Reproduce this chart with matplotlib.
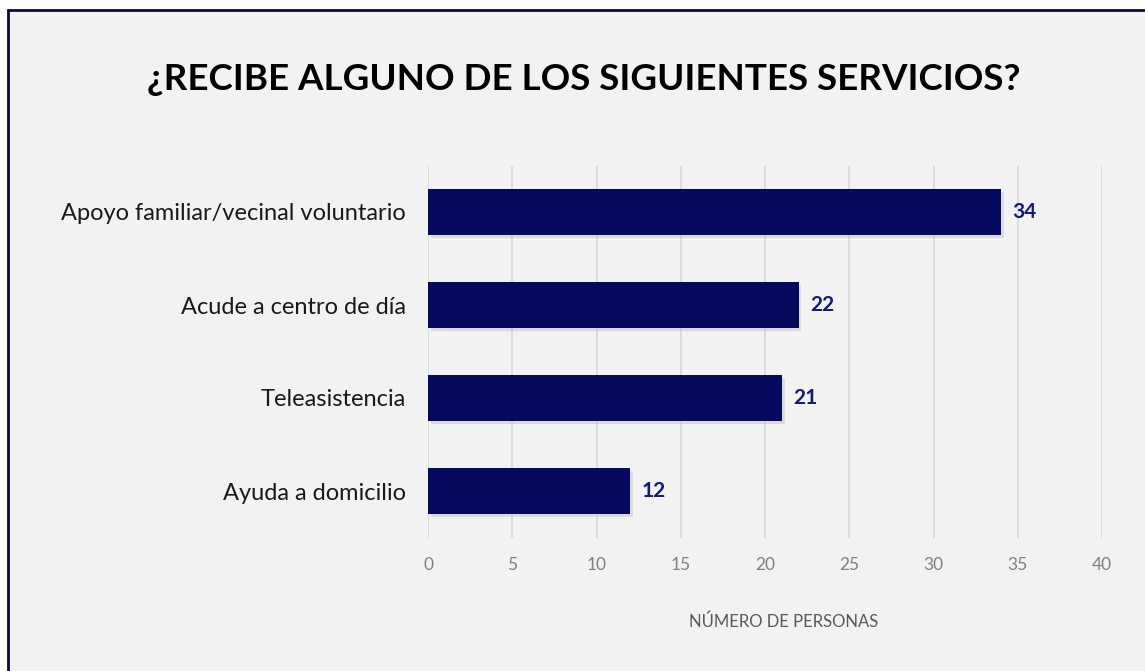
import matplotlib.pyplot as plt
import matplotlib.patches as mpatches
import matplotlib.patheffects as pe

categories = ["Apoyo familiar/vecinal voluntario", "Acude a centro de día",
              "Teleasistencia", "Ayuda a domicilio"]
values = [34, 22, 21, 12]
xticks = [0, 5, 10, 15, 20, 25, 30, 35, 40]

plt.rcParams['font.family'] = ['Lato', 'DejaVu Sans']

W, H = 1145, 671
fig = plt.figure(figsize=(W / 100, H / 100), dpi=100, facecolor='white')

# chart area background with dark border (cut at right/bottom as in the screenshot)
bg = mpatches.Rectangle((8 / W, -0.05), 1.1, 1 - 10 / H + 0.05, transform=fig.transFigure,
                        facecolor='#F2F2F2', edgecolor='#0B0B3B', linewidth=2, zorder=-10)
fig.patches.append(bg)

ax = fig.add_axes([428 / W, 1 - 537.5 / H, (1102 - 428) / W, 372 / H])
ax.set_facecolor('none')

y = list(range(len(categories)))
bars = ax.barh(y, values, height=0.5, color='#050A5E', zorder=3)
for b in bars:
    b.set_path_effects([pe.SimplePatchShadow(offset=(2, -2), shadow_rgbFace='#BDBDBD', alpha=0.45),
                        pe.Normal()])

for yi, v in zip(y, values):
    ax.text(v + 0.7, yi, str(v), va='center', ha='left', fontsize=15,
            fontweight='bold', color='#141A6E')

ax.set_xlim(0, 40)
ax.set_ylim(len(categories) - 0.5, -0.5)
ax.set_xticks(xticks)
ax.set_yticks(y)
ax.set_yticklabels(categories, fontsize=17, color='#1A1A1A')
ax.tick_params(axis='x', labelsize=12.5, labelcolor='#808080', length=0, pad=14)
ax.tick_params(axis='y', length=0, pad=16)
ax.grid(axis='x', color='#D9D9D9', linewidth=1.3, zorder=0)
for s in ax.spines.values():
    s.set_visible(False)

ax.set_xlabel("NÚMERO DE PERSONAS", fontsize=12, color='#595959')
ax.xaxis.set_label_coords(0.527, -0.227)
ax.xaxis.label.set_va('center')

fig.text(584 / W, 1 - 80 / H, "¿RECIBE ALGUNO DE LOS SIGUIENTES SERVICIOS?",
         ha='center', va='center', fontsize=26.5, fontweight='bold', color='#000000')

fig.savefig("out.png", dpi=100, facecolor='white')
